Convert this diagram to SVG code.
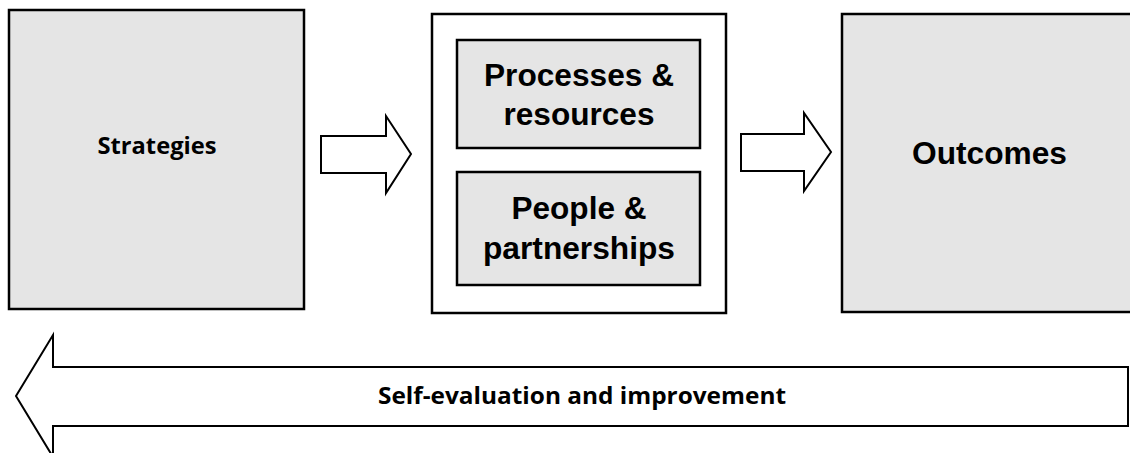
<svg xmlns="http://www.w3.org/2000/svg" width="1130" height="453" viewBox="0 0 1130 453">
  <style>
    .box { fill: #e5e5e5; stroke: #000; stroke-width: 2.5; }
    .frame { fill: #fff; stroke: #000; stroke-width: 2.5; }
    .arrow { fill: #fff; stroke: #000; stroke-width: 2; stroke-linejoin: miter; }
    .cal { font-family: "Open Sans", Lato, sans-serif; font-weight: bold; fill: #000; }
    .ari { font-family: "Liberation Sans", Arial, sans-serif; font-weight: bold; fill: #000; font-size: 32px; }
  </style>
  <rect width="1130" height="453" fill="#fff"/>
  <g id="strategies">
    <rect class="box" x="9" y="10" width="295" height="299"/>
    <text class="cal" x="157" y="154" font-size="24" text-anchor="middle" textLength="119" lengthAdjust="spacingAndGlyphs">Strategies</text>
  </g>
  <g id="middle">
    <rect class="frame" x="432" y="14" width="294" height="299"/>
    <g id="processes">
      <rect class="box" x="457" y="40" width="243" height="108"/>
      <text class="ari" x="579" y="85.5" text-anchor="middle" textLength="190" lengthAdjust="spacingAndGlyphs">Processes &amp;</text>
      <text class="ari" x="579" y="125" text-anchor="middle" textLength="151" lengthAdjust="spacingAndGlyphs">resources</text>
    </g>
    <g id="people">
      <rect class="box" x="457" y="172" width="243" height="113"/>
      <text class="ari" x="579" y="219" text-anchor="middle" textLength="135" lengthAdjust="spacingAndGlyphs">People &amp;</text>
      <text class="ari" x="579" y="259" text-anchor="middle" textLength="192" lengthAdjust="spacingAndGlyphs">partnerships</text>
    </g>
  </g>
  <g id="outcomes">
    <rect class="box" x="842" y="14" width="300" height="298"/>
    <text class="ari" x="989.5" y="164" text-anchor="middle" textLength="155" lengthAdjust="spacingAndGlyphs">Outcomes</text>
  </g>
  <g id="connectors">
    <polygon class="arrow" points="321,136 386,136 386,116 411,154 386,193 386,173 321,173"/>
    <polygon class="arrow" points="741,134 804,134 804,113 831,152 804,191 804,171 741,171"/>
    <g id="feedback">
      <polygon class="arrow" points="1128,367 53,367 53,335 16,396 53,457 53,426 1128,426"/>
      <text class="cal" x="582" y="404" font-size="23" text-anchor="middle" textLength="408" lengthAdjust="spacingAndGlyphs">Self-evaluation and improvement</text>
    </g>
  </g>
</svg>
